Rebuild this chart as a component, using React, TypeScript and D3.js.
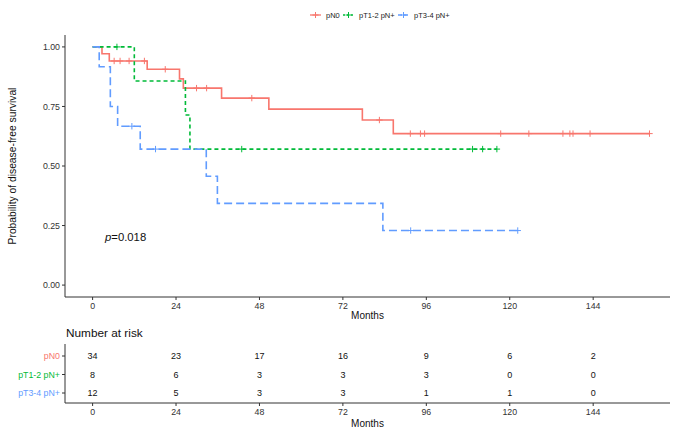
import React from "react";
import * as d3 from "d3";

const groups = ["pN0", "pT1-2 pN+", "pT3-4 pN+"];
const colors = ["#F8766D", "#00BA38", "#619CFF"];
const dashes = ["none", "4 3", "8 4"];

// event times (months) and survival after each event
const pN0Times = [2.7, 4.8, 15.7, 25.0, 26.1, 37.1, 50.7, 77.6, 86.5];
const pN0Surv = [0.971, 0.941, 0.906, 0.866, 0.827, 0.785, 0.739, 0.693, 0.636];
const pN0Censor = [6.2, 7.9, 10.5, 14.9, 20.9, 29.9, 32.8, 45.8, 82.5, 91.4, 94.3, 95.5, 117.4, 125.5, 135.3, 137.3, 138.2, 143.1, 160.2];

const pT12Times = [12.0, 26.7, 28.0];
const pT12Surv = [0.857, 0.714, 0.571];
const pT12Censor = [7.0, 42.9, 109.3, 112.2, 116.3];

const pT34Times = [1.9, 5.1, 7.2, 13.7, 32.7, 35.9, 83.5];
const pT34Surv = [0.917, 0.75, 0.667, 0.571, 0.457, 0.343, 0.229];
const pT34Censor = [11.3, 18.1, 91.5, 122.3];

const riskTimes = [0, 24, 48, 72, 96, 120, 144];
const riskN0 = [34, 23, 17, 16, 9, 6, 2];
const riskT12 = [8, 6, 3, 3, 3, 0, 0];
const riskT34 = [12, 5, 3, 3, 1, 1, 0];

const yTicks = [0, 0.25, 0.5, 0.75, 1];
const pValueText = "=0.018";

const series = [
  { times: pN0Times, surv: pN0Surv, censor: pN0Censor },
  { times: pT12Times, surv: pT12Surv, censor: pT12Censor },
  { times: pT34Times, surv: pT34Surv, censor: pT34Censor },
];
const riskRows = [riskN0, riskT12, riskT34];

const FONT = "'Liberation Sans', Arial, Helvetica, sans-serif";
const AXIS = "#333333";

function survAt(s: { times: number[]; surv: number[] }, t: number) {
  let v = 1;
  s.times.forEach((tt, i) => {
    if (tt <= t) v = s.surv[i];
  });
  return v;
}

export default function App() {
  const W = 677, H = 435;
  const x = d3.scaleLinear().domain([-7.94, 166.1]).range([65, 670]);
  const y = d3.scaleLinear().domain([-0.05, 1.05]).range([297, 35]);
  const rowY = d3.scalePoint<number>().domain([0, 1, 2]).range([356, 393]);
  const line = d3
    .line<[number, number]>()
    .x((d) => x(d[0]))
    .y((d) => y(d[1]))
    .curve(d3.curveStepAfter);

  const legendX = [310, 343, 398];

  return (
    <svg width={W} height={H} style={{ display: "block", position: "absolute", left: 0, top: 0 }} fontFamily={FONT}>
      <rect width={W} height={H} fill="#fff" />
      {/* legend */}
      {groups.map((g, i) => (
        <g key={g} transform={`translate(${legendX[i]},15)`}>
          <line x1={0} x2={11} y1={0} y2={0} stroke={colors[i]} strokeWidth={1.3} strokeDasharray={i === 0 ? undefined : i === 1 ? "2 2" : "4 2"} />
          <line x1={5.5} x2={5.5} y1={-3} y2={3} stroke={colors[i]} strokeWidth={1} />
          <line x1={2.5} x2={8.5} y1={0} y2={0} stroke={colors[i]} strokeWidth={1} />
          <text x={16} y={0} dy="0.35em" fontSize={7.5} fill="#222">{g}</text>
        </g>
      ))}

      {/* main panel axes */}
      <line x1={65} x2={65} y1={35} y2={297} stroke={AXIS} strokeWidth={1} />
      <line x1={65} x2={670} y1={297} y2={297} stroke={AXIS} strokeWidth={1} />
      {yTicks.map((t) => (
        <g key={t}>
          <line x1={62} x2={65} y1={y(t)} y2={y(t)} stroke={AXIS} />
          <text x={60} y={y(t)} dy="0.35em" textAnchor="end" fontSize={8.8} fill="#333">{t.toFixed(2)}</text>
        </g>
      ))}
      {riskTimes.map((t) => (
        <g key={t}>
          <line x1={x(t)} x2={x(t)} y1={297} y2={300} stroke={AXIS} />
          <text x={x(t)} y={306} dy="0.35em" textAnchor="middle" fontSize={8.8} fill="#333">{t}</text>
        </g>
      ))}
      <text x={367.5} y={315} dy="0.35em" textAnchor="middle" fontSize={10} fill="#111">Months</text>
      <text transform="translate(12,166) rotate(-90)" dy="0.35em" textAnchor="middle" fontSize={10.3} fill="#111">
        Probability of disease-free survival
      </text>

      {/* curves */}
      {series.map((s, i) => {
        const end = Math.max(...s.times, ...s.censor);
        const pts: [number, number][] = [[0, 1]];
        s.times.forEach((t, j) => pts.push([t, s.surv[j]]));
        pts.push([end, s.surv[s.surv.length - 1]]);
        return (
          <g key={i}>
            <path d={line(pts) || ""} fill="none" stroke={colors[i]} strokeWidth={1.6} strokeDasharray={dashes[i]} />
            {s.censor.map((c, k) => {
              const cx = x(c), cy = y(survAt(s, c));
              return (
                <g key={k} stroke={colors[i]} strokeWidth={1}>
                  <line x1={cx} x2={cx} y1={cy - 3.2} y2={cy + 3.2} />
                  <line x1={cx - 3.2} x2={cx + 3.2} y1={cy} y2={cy} />
                </g>
              );
            })}
          </g>
        );
      })}

      <text x={105} y={237} dy="0.35em" fontSize={11.3} fill="#111">
        <tspan fontStyle="italic">p</tspan>
        {pValueText}
      </text>

      {/* risk table */}
      <text x={66} y={333} dy="0.35em" fontSize={11.8} fill="#111">Number at risk</text>
      <line x1={65} x2={65} y1={344} y2={403} stroke={AXIS} strokeWidth={1} />
      <line x1={65} x2={670} y1={403} y2={403} stroke={AXIS} strokeWidth={1} />
      {groups.map((g, i) => (
        <g key={g}>
          <line x1={62} x2={65} y1={rowY(i)} y2={rowY(i)} stroke={AXIS} />
          <text x={60} y={rowY(i)} dy="0.35em" textAnchor="end" fontSize={8.8} fill={colors[i]}>{g}</text>
          {riskRows[i].map((n, k) => (
            <text key={k} x={x(riskTimes[k])} y={rowY(i)} dy="0.35em" textAnchor="middle" fontSize={9} fill="#111">{n}</text>
          ))}
        </g>
      ))}
      {riskTimes.map((t) => (
        <g key={t}>
          <line x1={x(t)} x2={x(t)} y1={403} y2={406} stroke={AXIS} />
          <text x={x(t)} y={411.5} dy="0.35em" textAnchor="middle" fontSize={8.8} fill="#333">{t}</text>
        </g>
      ))}
      <text x={367.5} y={423} dy="0.35em" textAnchor="middle" fontSize={10} fill="#111">Months</text>
    </svg>
  );
}
